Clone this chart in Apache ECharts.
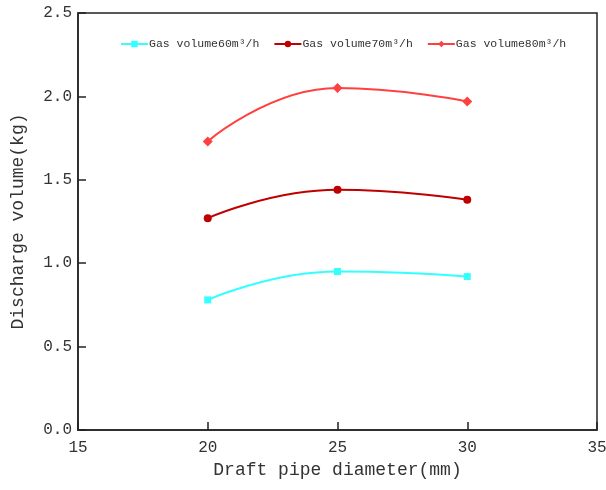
<!DOCTYPE html>
<html>
<head>
<meta charset="utf-8">
<script src="https://cdn.jsdelivr.net/npm/echarts@6/dist/echarts.min.js"></script>
<style>
html,body{margin:0;padding:0;background:#fff;}
#main{width:606px;height:490px;}
</style>
</head>
<body>
<div id="main"></div>
<script>
// 数据
var diameters = [20, 25, 30];
var gas60 = [0.78, 0.95, 0.92];
var gas70 = [1.27, 1.44, 1.38];
var gas80 = [1.73, 2.05, 1.97];
var seriesNames = ['Gas volume60m³/h', 'Gas volume70m³/h', 'Gas volume80m³/h'];

function pairs(vals) {
    return diameters.map(function (d, i) { return [d, vals[i]]; });
}

var font = 'Liberation Mono, DejaVu Sans Mono, monospace';
var myChart = echarts.init(document.getElementById('main'));

var option = {
    backgroundColor: '#fff',
    animation: false,
    grid: {
        left: 78, right: 9, top: 13, bottom: 60,
        outerBoundsMode: 'none', containLabel: false,
        show: true, borderColor: '#222', borderWidth: 1.5, backgroundColor: 'transparent'
    },
    legend: {
        top: 33, left: 115,
        itemWidth: 27, itemHeight: 8, itemGap: 14,
        textStyle: { fontFamily: font, fontSize: 11.5, color: '#333', padding: [0, 0, 0, -4] },
        data: seriesNames
    },
    xAxis: {
        type: 'value', min: 15, max: 35, interval: 5,
        name: 'Draft pipe diameter(mm)', nameLocation: 'middle', nameGap: 29,
        nameTextStyle: { fontFamily: font, fontSize: 18, color: '#333' },
        axisLine: { show: true, lineStyle: { color: '#222', width: 1.5 } },
        axisTick: { show: true, inside: true, length: 8, lineStyle: { color: '#222', width: 1.5 } },
        axisLabel: { fontFamily: font, fontSize: 16, color: '#333', margin: 10 },
        splitLine: { show: false }
    },
    yAxis: {
        type: 'value', min: 0, max: 2.5, interval: 0.5,
        name: 'Discharge volume(kg)', nameLocation: 'middle', nameGap: 51,
        nameTextStyle: { fontFamily: font, fontSize: 18, color: '#333' },
        axisLine: { show: true, lineStyle: { color: '#222', width: 1.5 } },
        axisTick: { show: true, inside: true, length: 8, lineStyle: { color: '#222', width: 1.5 } },
        axisLabel: { fontFamily: font, fontSize: 16, color: '#333', margin: 6,
            formatter: function (v) { return v.toFixed(1); } },
        splitLine: { show: false }
    },
    series: [
        {
            name: seriesNames[0], type: 'line', smooth: 0.5,
            symbol: 'rect', symbolSize: 7,
            itemStyle: { color: '#33ffff' }, lineStyle: { color: '#33ffff', width: 2 },
            data: pairs(gas60)
        },
        {
            name: seriesNames[1], type: 'line', smooth: 0.5,
            symbol: 'circle', symbolSize: 8,
            itemStyle: { color: '#c00000' }, lineStyle: { color: '#c00000', width: 2 },
            data: pairs(gas70)
        },
        {
            name: seriesNames[2], type: 'line', smooth: 0.5,
            symbol: 'diamond', symbolSize: 10,
            itemStyle: { color: '#ff4040' }, lineStyle: { color: '#ff4040', width: 2 },
            data: pairs(gas80)
        }
    ]
};

myChart.setOption(option);
window.onresize = myChart.resize;
</script>
</body>
</html>
